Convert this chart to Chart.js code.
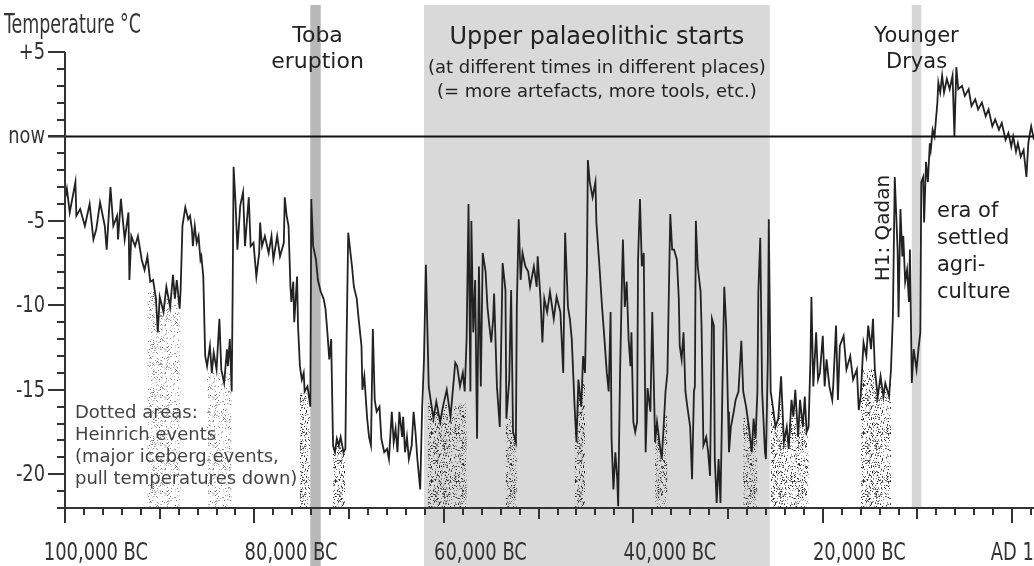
<!DOCTYPE html>
<html>
<head>
<meta charset="utf-8">
<title>Temperature over the last 100,000 years</title>
<script src="https://cdn.jsdelivr.net/npm/chart.js@4.4.1/dist/chart.umd.min.js"></script>
<style>
    html, body { margin: 0; padding: 0; background: #fff; overflow: hidden; }
    canvas { display: block; }
</style>
</head>
<body>
<canvas id="tempChart" width="1034" height="566"></canvas>
<script>
// Temperature record: [thousands of years relative to AD 1, temperature °C relative to now]
const record = [
    [-100.0,-3.7],[-99.8,-3.1],[-99.5,-4.5],[-98.9,-2.7],[-98.8,-4.7],[-98.4,-4.3],[-97.9,-5.3],[-97.4,-4.0],[-97.0,-6.1],[-96.7,-5.5],
    [-96.3,-3.9],[-95.8,-5.3],[-95.6,-6.7],[-95.2,-3.0],[-94.9,-5.3],[-94.5,-4.7],[-94.4,-6.1],[-94.1,-3.7],[-93.7,-6.1],[-93.3,-4.5],
    [-93.2,-8.5],[-93.0,-5.9],[-92.6,-6.5],[-92.3,-5.9],[-91.9,-7.3],[-91.6,-7.9],[-91.3,-7.1],[-91.0,-8.6],[-90.7,-8.5],[-90.4,-9.6],
    [-90.2,-11.6],[-90.0,-9.5],[-89.6,-10.4],[-89.3,-8.9],[-88.9,-10.1],[-88.6,-8.2],[-88.4,-9.6],[-88.2,-8.5],[-87.9,-10.2],[-87.8,-9.2],
    [-87.6,-5.3],[-87.3,-4.2],[-87.0,-4.9],[-86.8,-4.7],[-86.6,-5.5],[-86.5,-6.5],[-86.3,-5.3],[-86.1,-6.3],[-85.9,-5.9],[-85.7,-7.3],
    [-85.6,-7.1],[-85.4,-8.3],[-85.2,-13.0],[-85.0,-13.6],[-84.7,-12.4],[-84.5,-14.0],[-84.3,-12.8],[-84.0,-13.8],[-83.7,-10.8],[-83.5,-13.8],
    [-83.2,-14.6],[-82.9,-12.6],[-82.8,-13.6],[-82.6,-12.0],[-82.4,-15.1],[-82.3,-9.2],[-82.2,-1.8],[-82.0,-3.9],[-81.8,-6.7],[-81.5,-4.1],
    [-81.2,-3.3],[-81.0,-6.5],[-80.6,-3.6],[-80.4,-6.5],[-80.1,-6.3],[-79.8,-8.3],[-79.5,-6.9],[-79.4,-5.1],[-79.2,-6.5],[-78.9,-5.9],
    [-78.5,-6.9],[-78.2,-5.9],[-78.0,-7.3],[-77.6,-5.9],[-77.3,-7.1],[-76.9,-6.3],[-76.8,-3.6],[-76.6,-4.7],[-76.4,-5.3],[-76.2,-8.9],
    [-76.1,-9.8],[-75.9,-8.6],[-75.8,-11.0],[-75.5,-8.3],[-75.4,-11.2],[-75.2,-13.6],[-75.0,-14.4],[-74.8,-14.0],[-74.7,-15.1],[-74.4,-14.8],
    [-74.1,-16.0],[-74.0,-3.7],[-73.8,-6.5],[-73.5,-7.3],[-73.3,-8.5],[-73.0,-9.2],[-72.7,-9.6],[-72.5,-10.2],[-72.3,-11.6],[-72.1,-13.2],
    [-71.9,-12.0],[-71.7,-18.3],[-71.5,-18.7],[-71.3,-17.9],[-71.1,-18.3],[-70.9,-17.8],[-70.6,-18.7],[-70.4,-18.5],[-70.3,-13.2],[-70.1,-5.7],
    [-69.7,-7.7],[-69.5,-8.9],[-69.2,-9.6],[-69.0,-10.8],[-68.7,-12.4],[-68.6,-15.0],[-68.4,-14.2],[-68.1,-16.7],[-67.9,-17.8],[-67.7,-18.3],
    [-67.5,-11.4],[-67.3,-15.6],[-67.1,-16.3],[-66.8,-16.0],[-66.6,-17.9],[-66.3,-18.7],[-66.0,-18.5],[-65.8,-19.1],[-65.5,-16.3],[-65.3,-18.1],
    [-65.1,-17.3],[-64.9,-18.7],[-64.7,-16.3],[-64.4,-17.8],[-64.3,-16.6],[-64.1,-18.7],[-63.9,-17.8],[-63.7,-19.1],[-63.4,-18.3],[-63.2,-16.3],
    [-63.0,-17.5],[-62.8,-19.1],[-62.5,-20.9],[-62.3,-16.2],[-62.1,-13.2],[-61.9,-7.6],[-61.7,-12.4],[-61.6,-14.8],[-61.4,-15.6],[-61.1,-16.7],
    [-60.8,-15.7],[-60.4,-16.9],[-60.1,-16.0],[-59.7,-15.0],[-59.3,-16.6],[-58.8,-13.4],[-58.6,-13.6],[-58.3,-14.8],[-58.0,-14.0],[-57.8,-15.1],
    [-57.6,-12.0],[-57.4,-4.0],[-57.2,-15.1],[-57.1,-5.0],[-56.9,-11.6],[-56.7,-8.5],[-56.5,-17.9],[-56.3,-7.7],[-56.1,-14.8],[-55.9,-6.9],
    [-55.6,-8.0],[-55.4,-10.1],[-55.2,-11.2],[-55.0,-12.2],[-54.8,-10.8],[-54.7,-9.3],[-54.4,-14.8],[-54.1,-17.2],[-53.8,-7.5],[-53.5,-9.1],
    [-53.4,-16.7],[-53.1,-14.4],[-52.9,-9.1],[-52.7,-17.5],[-52.4,-18.1],[-52.3,-10.1],[-52.1,-4.9],[-51.9,-8.5],[-51.7,-6.9],[-51.4,-7.7],
    [-51.1,-8.0],[-50.9,-8.9],[-50.5,-7.7],[-50.2,-8.9],[-50.1,-7.1],[-49.8,-9.6],[-49.6,-12.2],[-49.4,-9.6],[-49.1,-10.4],[-48.8,-9.2],
    [-48.4,-10.8],[-48.1,-9.5],[-47.7,-10.4],[-47.4,-14.0],[-47.2,-5.7],[-46.9,-10.1],[-46.7,-10.8],[-46.5,-12.0],[-46.2,-16.0],[-46.0,-18.1],
    [-45.8,-14.4],[-45.5,-16.0],[-45.3,-13.0],[-45.1,-14.0],[-44.9,-8.0],[-44.8,-1.4],[-44.6,-2.7],[-44.3,-3.6],[-44.0,-2.7],[-43.9,-5.1],
    [-43.6,-7.5],[-43.3,-10.1],[-43.1,-11.6],[-42.8,-14.0],[-42.6,-15.1],[-42.4,-10.4],[-42.3,-17.9],[-42.1,-20.9],[-41.9,-18.7],[-41.7,-20.3],
    [-41.6,-21.9],[-41.4,-14.0],[-41.2,-8.5],[-41.1,-6.1],[-40.9,-10.1],[-40.7,-8.6],[-40.5,-12.0],[-40.3,-13.6],[-40.2,-11.6],[-40.0,-16.9],
    [-39.8,-17.5],[-39.6,-16.9],[-39.5,-7.3],[-39.3,-3.7],[-39.1,-7.7],[-38.9,-6.9],[-38.7,-18.7],[-38.5,-14.9],[-38.2,-16.3],[-38.0,-10.4],
    [-37.7,-18.1],[-37.5,-16.9],[-37.2,-18.3],[-37.0,-19.1],[-36.8,-17.2],[-36.6,-15.1],[-36.4,-14.0],[-36.1,-4.6],[-35.9,-6.7],[-35.7,-6.7],
    [-35.4,-7.3],[-35.2,-9.6],[-35.1,-12.4],[-34.9,-13.2],[-34.7,-11.6],[-34.5,-15.1],[-34.3,-16.0],[-34.0,-17.2],[-33.8,-20.3],[-33.6,-15.1],
    [-33.5,-14.8],[-33.4,-5.0],[-33.2,-7.7],[-32.9,-9.2],[-32.8,-11.2],[-32.6,-18.3],[-32.3,-17.8],[-32.1,-18.7],[-31.9,-20.1],[-31.7,-10.8],
    [-31.5,-11.2],[-31.4,-19.1],[-31.2,-21.7],[-31.0,-19.1],[-30.8,-21.7],[-30.6,-15.1],[-30.4,-8.9],[-30.2,-11.2],[-30.0,-16.3],[-29.9,-18.7],
    [-29.7,-17.2],[-29.4,-16.3],[-29.2,-15.6],[-28.9,-15.1],[-28.6,-12.1],[-28.4,-15.1],[-28.1,-16.0],[-27.8,-17.2],[-27.5,-18.7],[-27.3,-16.7],
    [-27.1,-17.9],[-26.9,-15.1],[-26.8,-9.2],[-26.6,-6.0],[-26.4,-15.1],[-26.1,-18.7],[-26.0,-19.1],[-25.8,-13.2],[-25.7,-4.9],[-25.5,-15.1],
    [-25.2,-16.3],[-25.0,-17.2],[-24.7,-16.7],[-24.4,-14.2],[-24.1,-18.1],[-23.8,-17.2],[-23.6,-18.5],[-23.3,-15.6],[-23.1,-16.6],[-22.9,-15.0],
    [-22.6,-17.8],[-22.4,-15.6],[-22.1,-17.2],[-21.9,-15.4],[-21.7,-17.5],[-21.5,-17.2],[-21.3,-13.2],[-21.2,-9.5],[-21.0,-14.8],[-20.7,-11.6],
    [-20.5,-14.4],[-20.3,-14.0],[-20.0,-11.8],[-19.8,-14.8],[-19.6,-13.2],[-19.3,-14.8],[-19.0,-15.6],[-18.9,-14.8],[-18.6,-11.2],[-18.4,-15.6],
    [-18.2,-12.4],[-17.8,-11.8],[-17.5,-13.8],[-17.1,-13.0],[-16.8,-14.4],[-16.4,-13.8],[-16.2,-16.2],[-16.0,-15.4],[-15.7,-12.2],[-15.4,-13.0],
    [-15.2,-11.2],[-14.9,-12.6],[-14.7,-10.8],[-14.5,-13.8],[-14.2,-15.4],[-13.9,-14.2],[-13.6,-15.4],[-13.4,-14.6],[-13.0,-15.4],[-12.8,-13.8],
    [-12.6,-10.7],[-12.4,-2.4],[-12.1,-6.7],[-12.0,-10.7],[-11.8,-4.3],[-11.6,-7.1],[-11.5,-5.9],[-11.3,-8.6],[-11.1,-7.9],[-10.9,-9.8],
    [-10.8,-6.7],[-10.6,-14.6],[-10.4,-12.6],[-10.1,-13.8],[-9.9,-12.6],[-9.7,-11.6],[-9.6,-2.7],[-9.4,-2.4],[-9.3,-5.1],[-9.1,-1.5],
    [-8.9,-2.7],[-8.7,-0.4],[-8.6,-0.8],[-8.4,0.4],[-8.2,0.0],[-7.9,2.0],[-7.8,3.2],[-7.6,2.6],[-7.4,3.6],[-7.2,2.6],
    [-6.9,3.4],[-6.6,2.8],[-6.3,3.6],[-6.1,0.0],[-5.9,4.1],[-5.7,2.8],[-5.3,3.0],[-5.0,2.4],[-4.6,2.8],[-4.3,1.8],
    [-3.9,2.2],[-3.6,1.6],[-3.2,2.0],[-2.8,1.2],[-2.5,1.6],[-2.1,0.6],[-1.8,1.0],[-1.4,0.4],[-1.1,0.8],[-0.7,-0.2],
    [-0.4,0.2],[-0.1,-0.6],[0.1,0.0],[0.4,-0.9],[0.6,-0.4],[0.9,-1.2],[1.2,-0.8],[1.5,-2.4],[1.7,-0.4],[2.0,0.6],
    [2.3,-0.2]
];

// Heinrich events: [from kyr, to kyr, upper edge of the dotted area °C]
const heinrichEvents = [
    [-91.3, -87.7, -9.0],
    [-85.0, -82.4, -14.0],
    [-75.2, -74.1, -15.2],
    [-71.8, -70.4, -18.3],
    [-61.8, -57.6, -15.8],
    [-53.5, -52.3, -16.6],
    [-46.2, -45.1, -14.5],
    [-37.9, -36.3, -16.5],
    [-28.5, -26.9, -16.6],
    [-25.6, -21.4, -15.5],
    [-16.0, -12.7, -13.8]
];

// Shaded periods (kyr)
const tobaEruption = [-74.1, -73.0];
const upperPalaeolithic = [-62.1, -25.6];
const youngerDryas = [-10.6, -9.6];

// Axis ticks and labels
const tempTicks = [5, 0, -5, -10, -15, -20];
const tempLabels = ['+5', 'now', '-5', '-10', '-15', '-20'];
const yearTicks = [-100, -80, -60, -40, -20, 0];
const yearLabels = ['100,000 BC', '80,000 BC', '60,000 BC', '40,000 BC', '20,000 BC', 'AD 1'];

const NARROW = '"DejaVu Sans Condensed", "DejaVu Sans", sans-serif';
const PLAIN = '"DejaVu Sans", Verdana, sans-serif';

// scattered-dot texture for the Heinrich fills
function makeStipple(count, aMin, aMax, seed) {
    const tile = document.createElement('canvas');
    tile.width = tile.height = 48;
    const g = tile.getContext('2d');
    let s = seed;
    const next = () => (s = (s * 16807) % 2147483647) / 2147483647;
    for (let i = 0; i < count; i++) {
        const a = aMin + (aMax - aMin) * next();
        g.fillStyle = `rgba(0,0,0,${a.toFixed(2)})`;
        g.fillRect(Math.floor(next() * 48), Math.floor(next() * 48), 1, 1);
    }
    return g.createPattern(tile, 'repeat');
}

// condensed axis lettering, squeezed horizontally
function narrowText(ctx, text, x, y, squeeze) {
    ctx.save();
    ctx.translate(x, y);
    ctx.scale(squeeze, 1);
    ctx.fillText(text, 0, 0);
    ctx.restore();
}

const lightDots = makeStipple(420, 0.12, 0.5, 11);
const darkDots = makeStipple(720, 0.2, 0.85, 29);

const linePoints = record.map(([x, y]) => ({ x, y }));

const heinrichSets = heinrichEvents.map(([from, to, top], i) => ({
    data: record.filter(([x]) => x >= from && x <= to).map(([x, y]) => ({ x, y: Math.min(y, top) })),
    borderWidth: 0,
    pointRadius: 0,
    fill: 'start',
    backgroundColor: i < 2 ? lightDots : darkDots,
    order: 1
}));

const decorations = {
    id: 'decorations',
    beforeDatasetsDraw(chart) {
        const { ctx, scales: { x, y } } = chart;
        const band = (range, color, bottom) => {
            const x0 = x.getPixelForValue(range[0]);
            const x1 = x.getPixelForValue(range[1]);
            ctx.fillStyle = color;
            ctx.fillRect(x0, 5, x1 - x0, bottom - 5);
        };
        ctx.save();
        band(upperPalaeolithic, '#d9d9d9', chart.height);
        band(tobaEruption, '#b8b8b8', chart.height);
        band(youngerDryas, '#d6d6d6', y.bottom);
        ctx.restore();
    },
    afterDatasetsDraw(chart) {
        const { ctx, scales: { x, y } } = chart;
        const left = x.left, bottom = y.bottom;
        ctx.save();

        // "now" line
        const y0 = y.getPixelForValue(0);
        ctx.strokeStyle = '#111';
        ctx.lineWidth = 2;
        ctx.beginPath();
        ctx.moveTo(left - 17, y0);
        ctx.lineTo(chart.width, y0);
        ctx.stroke();

        // axis lines and ticks
        ctx.strokeStyle = '#333';
        ctx.lineWidth = 2;
        ctx.beginPath();
        ctx.moveTo(left, y.top);
        ctx.lineTo(left, bottom);
        ctx.lineTo(chart.width, bottom);
        for (let v = -22; v <= 5; v++) {
            const py = Math.round(y.getPixelForValue(v));
            ctx.moveTo(left - (v % 5 === 0 ? 17 : 8), py);
            ctx.lineTo(left, py);
        }
        for (let v = -100; v <= x.max; v += 2) {
            const px = Math.round(x.getPixelForValue(v));
            const len = v % 20 === 0 ? 15 : v % 10 === 0 ? 11 : 7;
            ctx.moveTo(px, bottom);
            ctx.lineTo(px, bottom + len);
        }
        ctx.stroke();

        // tick labels
        ctx.fillStyle = '#333';
        ctx.font = '23px ' + NARROW;
        ctx.textAlign = 'right';
        ctx.textBaseline = 'middle';
        tempTicks.forEach((v, i) => narrowText(ctx, tempLabels[i], left - 20, y.getPixelForValue(v) + 1, 0.86));

        ctx.font = '24px ' + NARROW;
        ctx.textBaseline = 'alphabetic';
        yearTicks.forEach((v, i) => {
            const px = x.getPixelForValue(v);
            if (v < 0) {
                ctx.textAlign = 'right';
                narrowText(ctx, yearLabels[i], px + 83, bottom + 52, 0.83);
            } else {
                ctx.textAlign = 'center';
                narrowText(ctx, yearLabels[i], px, bottom + 52, 0.83);
            }
        });

        ctx.textAlign = 'left';
        ctx.font = '27px ' + NARROW;
        narrowText(ctx, 'Temperature °C', 4, 33, 0.72);

        // annotations
        const mid = r => x.getPixelForValue((r[0] + r[1]) / 2);
        ctx.fillStyle = '#222';
        ctx.textAlign = 'center';
        ctx.font = '22px ' + PLAIN;
        ctx.fillText('Toba', mid(tobaEruption) + 2, 42);
        ctx.fillText('eruption', mid(tobaEruption) + 2, 68);

        ctx.font = '24px ' + PLAIN;
        ctx.fillText('Upper palaeolithic starts', mid(upperPalaeolithic), 44);
        ctx.font = '18px ' + PLAIN;
        ctx.fillText('(at different times in different places)', mid(upperPalaeolithic), 73);
        ctx.fillText('(= more artefacts, more tools, etc.)', mid(upperPalaeolithic), 97);

        ctx.font = '21px ' + PLAIN;
        ctx.fillText('Younger', mid(youngerDryas), 42);
        ctx.fillText('Dryas', mid(youngerDryas), 68);

        ctx.save();
        ctx.translate(884, 228);
        ctx.rotate(-Math.PI / 2);
        ctx.font = '20px ' + PLAIN;
        ctx.textBaseline = 'middle';
        ctx.fillText('H1: Qadan', 0, 0);
        ctx.restore();

        ctx.textAlign = 'left';
        ctx.font = '21px ' + PLAIN;
        ['era of', 'settled', 'agri-', 'culture'].forEach((t, i) => ctx.fillText(t, 937, 217 + i * 27));

        ctx.fillStyle = '#444';
        ctx.font = '18px ' + PLAIN;
        ['Dotted areas:', 'Heinrich events', '(major iceberg events,', 'pull temperatures down)']
            .forEach((t, i) => ctx.fillText(t, 75, 418 + i * 22));

        ctx.restore();
    }
};

new Chart(document.getElementById('tempChart'), {
    type: 'line',
    data: {
        datasets: [{
            data: linePoints,
            borderColor: '#222',
            borderWidth: 1.8,
            pointRadius: 0,
            tension: 0,
            fill: false,
            order: 0
        }, ...heinrichSets]
    },
    options: {
        responsive: false,
        animation: false,
        events: [],
        layout: { padding: { left: 65, right: 0, top: 52, bottom: 58 } },
        plugins: { legend: { display: false }, tooltip: { enabled: false } },
        scales: {
            x: { type: 'linear', min: -100, max: 2.3, display: false },
            y: { min: -22, max: 5, display: false }
        }
    },
    plugins: [decorations]
});
</script>
</body>
</html>
